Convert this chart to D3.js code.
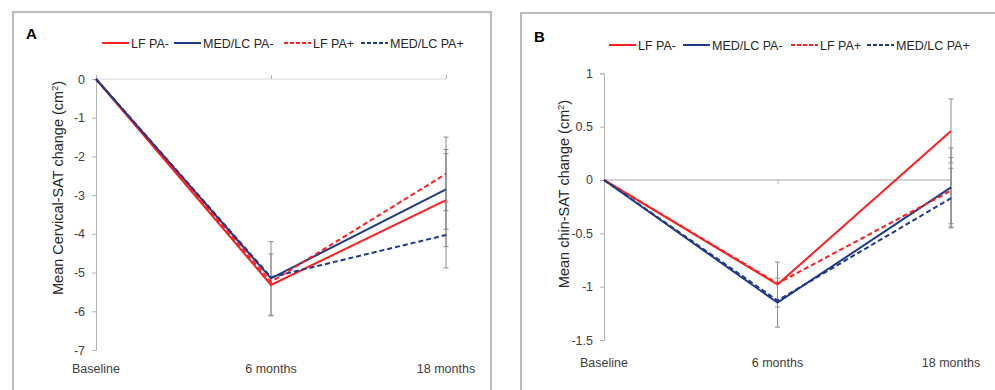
<!DOCTYPE html>
<html>
<head>
<meta charset="utf-8">
<script src="https://cdn.jsdelivr.net/npm/d3@7"></script>
<style>
  body { margin: 0; background: #fff; }
  svg { font-family: "Liberation Sans", Arial, sans-serif; }
</style>
</head>
<body>
<div id="chart"></div>
<script>
// categories and series
var categories = ["Baseline", "6 months", "18 months"];
var seriesNames = ["LF PA-", "MED/LC PA-", "LF PA+", "MED/LC PA+"];

// panel A: cervical SAT change (cm2)
var cervLFminus  = [0, -5.32, -3.13];
var cervMEDminus = [0, -5.15, -2.85];
var cervLFplus   = [0, -5.24, -2.45];
var cervMEDplus  = [0, -5.12, -4.03];
var cervErrLFminus  = [null, 0.80, 1.20];
var cervErrMEDminus = [null, 0.95, 1.03];
var cervErrLFplus   = [null, null, 0.95];
var cervErrMEDplus  = [null, null, 0.85];
var cervTicks = [0, -1, -2, -3, -4, -5, -6, -7];

// panel B: chin SAT change (cm2)
var chinLFminus  = [0, -0.98, 0.46];
var chinMEDminus = [0, -1.15, -0.07];
var chinLFplus   = [0, -0.97, -0.10];
var chinMEDplus  = [0, -1.13, -0.17];
var chinErrLFminus  = [null, 0.21, 0.30];
var chinErrMEDminus = [null, 0.23, 0.37];
var chinErrLFplus   = [null, null, 0.31];
var chinErrMEDplus  = [null, null, 0.28];
var chinTicks = [1, 0.5, 0, -0.5, -1, -1.5];

var colors = ["#ff1f1f", "#1f3a86", "#ff1f1f", "#1f3a86"];
var dashes = [null, null, "5,3", "5,3"];

var svg = d3.select("#chart").append("svg")
    .attr("width", 995)
    .attr("height", 390);

function drawPanel(p) {
  var g = svg.append("g");

  // panel frame
  g.append("rect")
      .attr("x", p.frame[0]).attr("y", p.frame[1])
      .attr("width", p.frame[2]).attr("height", p.frame[3])
      .attr("fill", "none")
      .attr("stroke", "#a6a6a6")
      .attr("stroke-width", 1.5);

  var x = d3.scalePoint().domain(categories).range(p.xRange);
  var y = d3.scaleLinear().domain(p.yDomain).range(p.yRange);

  // y axis
  var yAxis = g.append("g")
      .attr("transform", "translate(" + p.xRange[0] + ",0)")
      .call(d3.axisLeft(y).tickValues(p.ticks).tickSize(4).tickPadding(7)
        .tickFormat(function(d) { return String(d); }));
  yAxis.select(".domain").attr("stroke", "#b3b3b3");
  yAxis.selectAll(".tick line").attr("stroke", "#b3b3b3");
  yAxis.selectAll(".tick text")
      .attr("fill", "#404040")
      .style("font-size", "12.5px");

  // horizontal axis at zero
  var xAxis = g.append("g")
      .attr("transform", "translate(0," + y(0) + ")")
      .call(d3.axisBottom(x).tickSize(p.xTickDir * 4).tickFormat(""));
  xAxis.select(".domain").attr("stroke", p.zeroColor).attr("d",
      "M" + p.xRange[0] + ",0H" + p.xRange[1]);
  xAxis.selectAll(".tick line").attr("stroke", "#b3b3b3");

  // category labels at the bottom
  g.selectAll(".cat")
    .data(categories)
    .enter()
    .append("text")
      .attr("x", function(d) { return x(d); })
      .attr("y", p.catY)
      .attr("text-anchor", "middle")
      .attr("fill", "#404040")
      .style("font-size", "12.5px")
      .text(function(d) { return d; });

  // error bars
  p.series.forEach(function(s, si) {
    s.err.forEach(function(e, i) {
      if (e == null) return;
      var cx = x(categories[i]);
      var v = s.values[i];
      g.append("line")
          .attr("x1", cx).attr("x2", cx)
          .attr("y1", y(v + e)).attr("y2", y(v - e))
          .attr("stroke", "#8c8c8c").attr("stroke-width", 1);
      [v + e, v - e].forEach(function(c) {
        g.append("line")
            .attr("x1", cx - 2.5).attr("x2", cx + 2.5)
            .attr("y1", y(c)).attr("y2", y(c))
            .attr("stroke", "#8c8c8c").attr("stroke-width", 1);
      });
    });
  });

  // series lines
  var line = d3.line()
      .x(function(d, i) { return x(categories[i]); })
      .y(function(d) { return y(d); });

  p.series.forEach(function(s, si) {
    g.append("path")
        .datum(s.values)
        .attr("d", line)
        .attr("fill", "none")
        .attr("stroke", colors[si])
        .attr("stroke-width", 2)
        .attr("stroke-dasharray", dashes[si]);
  });

  // panel letter
  g.append("text")
      .attr("x", p.letterPos[0]).attr("y", p.letterPos[1])
      .style("font-size", "15px")
      .style("font-weight", "bold")
      .attr("fill", "#000")
      .text(p.letter);

  // y label
  var yl = g.append("text")
      .attr("transform", "translate(" + p.labelX + "," + p.labelY + ") rotate(-90)")
      .attr("text-anchor", "middle")
      .attr("fill", "#262626")
      .style("font-size", "14.5px");
  yl.append("tspan").text(p.label + " (cm");
  yl.append("tspan").attr("dy", -5).style("font-size", "9px").text("2");
  yl.append("tspan").attr("dy", 5).text(")");

  // legend
  seriesNames.forEach(function(name, i) {
    var lx = p.legendX[i];
    g.append("line")
        .attr("x1", lx).attr("x2", lx + 27)
        .attr("y1", p.legendY).attr("y2", p.legendY)
        .attr("stroke", colors[i])
        .attr("stroke-width", 2)
        .attr("stroke-dasharray", dashes[i] ? "4,2" : null);
    g.append("text")
        .attr("x", lx + 29).attr("y", p.legendY + 4.5)
        .attr("fill", "#262626")
        .style("font-size", "12.5px")
        .text(name);
  });
}

drawPanel({
  frame: [13, 12, 478, 390],
  xRange: [96, 446],
  yDomain: [-7, 0],
  yRange: [350, 79],
  ticks: cervTicks,
  xTickDir: -1,
  zeroColor: "#d9d9d9",
  catY: 373,
  letter: "A",
  letterPos: [26, 39],
  label: "Mean Cervical-SAT change",
  labelX: 63,
  labelY: 188,
  legendX: [102, 174, 284, 361],
  legendY: 43,
  series: [
    {values: cervLFminus,  err: cervErrLFminus},
    {values: cervMEDminus, err: cervErrMEDminus},
    {values: cervLFplus,   err: cervErrLFplus},
    {values: cervMEDplus,  err: cervErrMEDplus}
  ]
});

drawPanel({
  frame: [521, 13, 500, 390],
  xRange: [604, 951],
  yDomain: [-1.5, 1],
  yRange: [340, 73.3],
  ticks: chinTicks,
  xTickDir: 1,
  zeroColor: "#a6a6a6",
  catY: 367,
  letter: "B",
  letterPos: [534, 42],
  label: "Mean chin-SAT change",
  labelX: 569,
  labelY: 194,
  legendX: [609, 683, 791, 867],
  legendY: 45,
  series: [
    {values: chinLFminus,  err: chinErrLFminus},
    {values: chinMEDminus, err: chinErrMEDminus},
    {values: chinLFplus,   err: chinErrLFplus},
    {values: chinMEDplus,  err: chinErrMEDplus}
  ]
});
</script>
</body>
</html>
